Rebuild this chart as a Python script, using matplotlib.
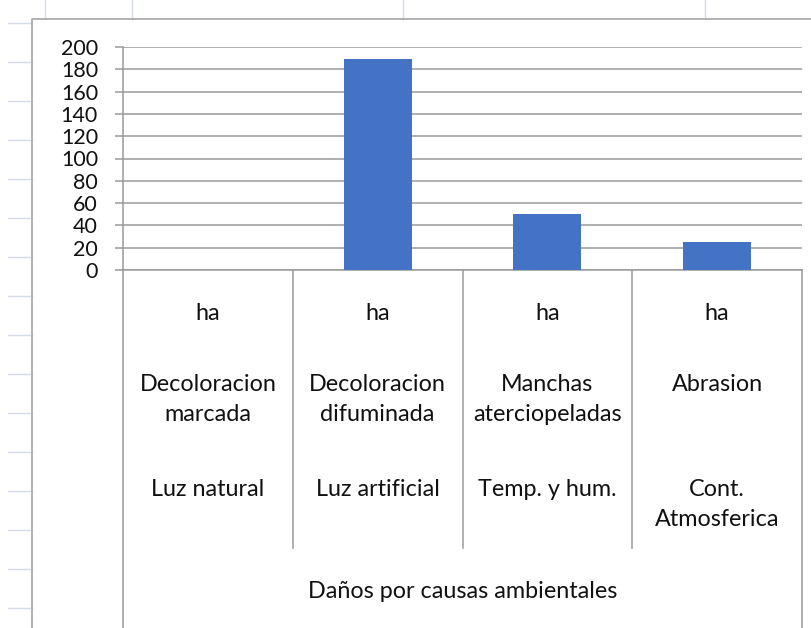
import matplotlib
matplotlib.use('Agg')
import matplotlib.pyplot as plt
from matplotlib import transforms
import numpy as np

# datos del grafico
nivel1 = ['ha', 'ha', 'ha', 'ha']
nivel2 = ['Decoloracion\nmarcada', 'Decoloracion\ndifuminada', 'Manchas\naterciopeladas', 'Abrasion']
nivel3 = ['Luz natural', 'Luz artificial', 'Temp. y hum.', 'Cont.\nAtmosferica']
grupo = 'Daños por causas ambientales'
valores = [0, 189, 50, 25]
yticks = list(range(0, 201, 20))

plt.rcParams['font.family'] = ['Lato', 'DejaVu Sans']

W, H = 811, 628
fig = plt.figure(figsize=(W / 100, H / 100), dpi=100)

# fondo en pixeles (hoja de calculo + borde del grafico)
bg = fig.add_axes([0, 0, 1, 1])
bg.set_xlim(0, W)
bg.set_ylim(H, 0)
bg.axis('off')
for y in np.arange(23, H, 39):
    bg.plot([8, 32], [y, y], color='#d5dbe6', lw=1)
for xx in [45, 132, 403, 705]:
    bg.plot([xx, xx], [0, 19], color='#d5dbe6', lw=1)
bg.plot([32, 32, W], [H, 19, 19], color='#a6a6a6', lw=1.2)

# area del grafico
gris = '#9a9a9a'
texto = '#111111'
fs = 16.8
ax = fig.add_axes([123 / W, 1 - 270 / H, 679 / W, 223 / H])
x = np.arange(len(valores))
ax.bar(x, valores, width=0.4, color='#4472c4', zorder=3)
ax.set_xlim(-0.5, len(valores) - 0.5)
ax.set_ylim(0, 200)
ax.set_yticks(yticks)
ax.yaxis.grid(True, color=gris, lw=1.1)
ax.set_axisbelow(True)
ax.spines['top'].set_visible(False)
ax.spines['right'].set_visible(False)
ax.spines['left'].set_color(gris)
ax.spines['bottom'].set_color(gris)
ax.spines['left'].set_linewidth(1.1)
ax.spines['bottom'].set_linewidth(1.1)
ax.set_xticks([])
ax.tick_params(axis='y', length=6, width=1.1, color=gris, labelsize=15.5, pad=12, labelcolor=texto)

# eje de categorias en varios niveles
trans = transforms.blended_transform_factory(ax.transData, bg.transData)
bordes = np.arange(len(valores) + 1) - 0.5
for i, b in enumerate(bordes):
    fin = H if i in (0, len(bordes) - 1) else 548
    bg.plot([b, b], [270, fin], color=gris, lw=1.1, transform=trans, clip_on=False)

for i in range(len(valores)):
    ax.text(i, 313, nivel1[i], transform=trans, ha='center', va='center', fontsize=fs, color=texto)
    ax.text(i, 374, nivel2[i], transform=trans, ha='center', va='top', fontsize=fs,
            color=texto, linespacing=1.52, multialignment='center')
    ax.text(i, 479, nivel3[i], transform=trans, ha='center', va='top', fontsize=fs,
            color=texto, linespacing=1.52, multialignment='center')
ax.text((len(valores) - 1) / 2, 592, grupo, transform=trans, ha='center', va='center',
        fontsize=fs, color=texto)

fig.savefig('out.png', dpi=100)
